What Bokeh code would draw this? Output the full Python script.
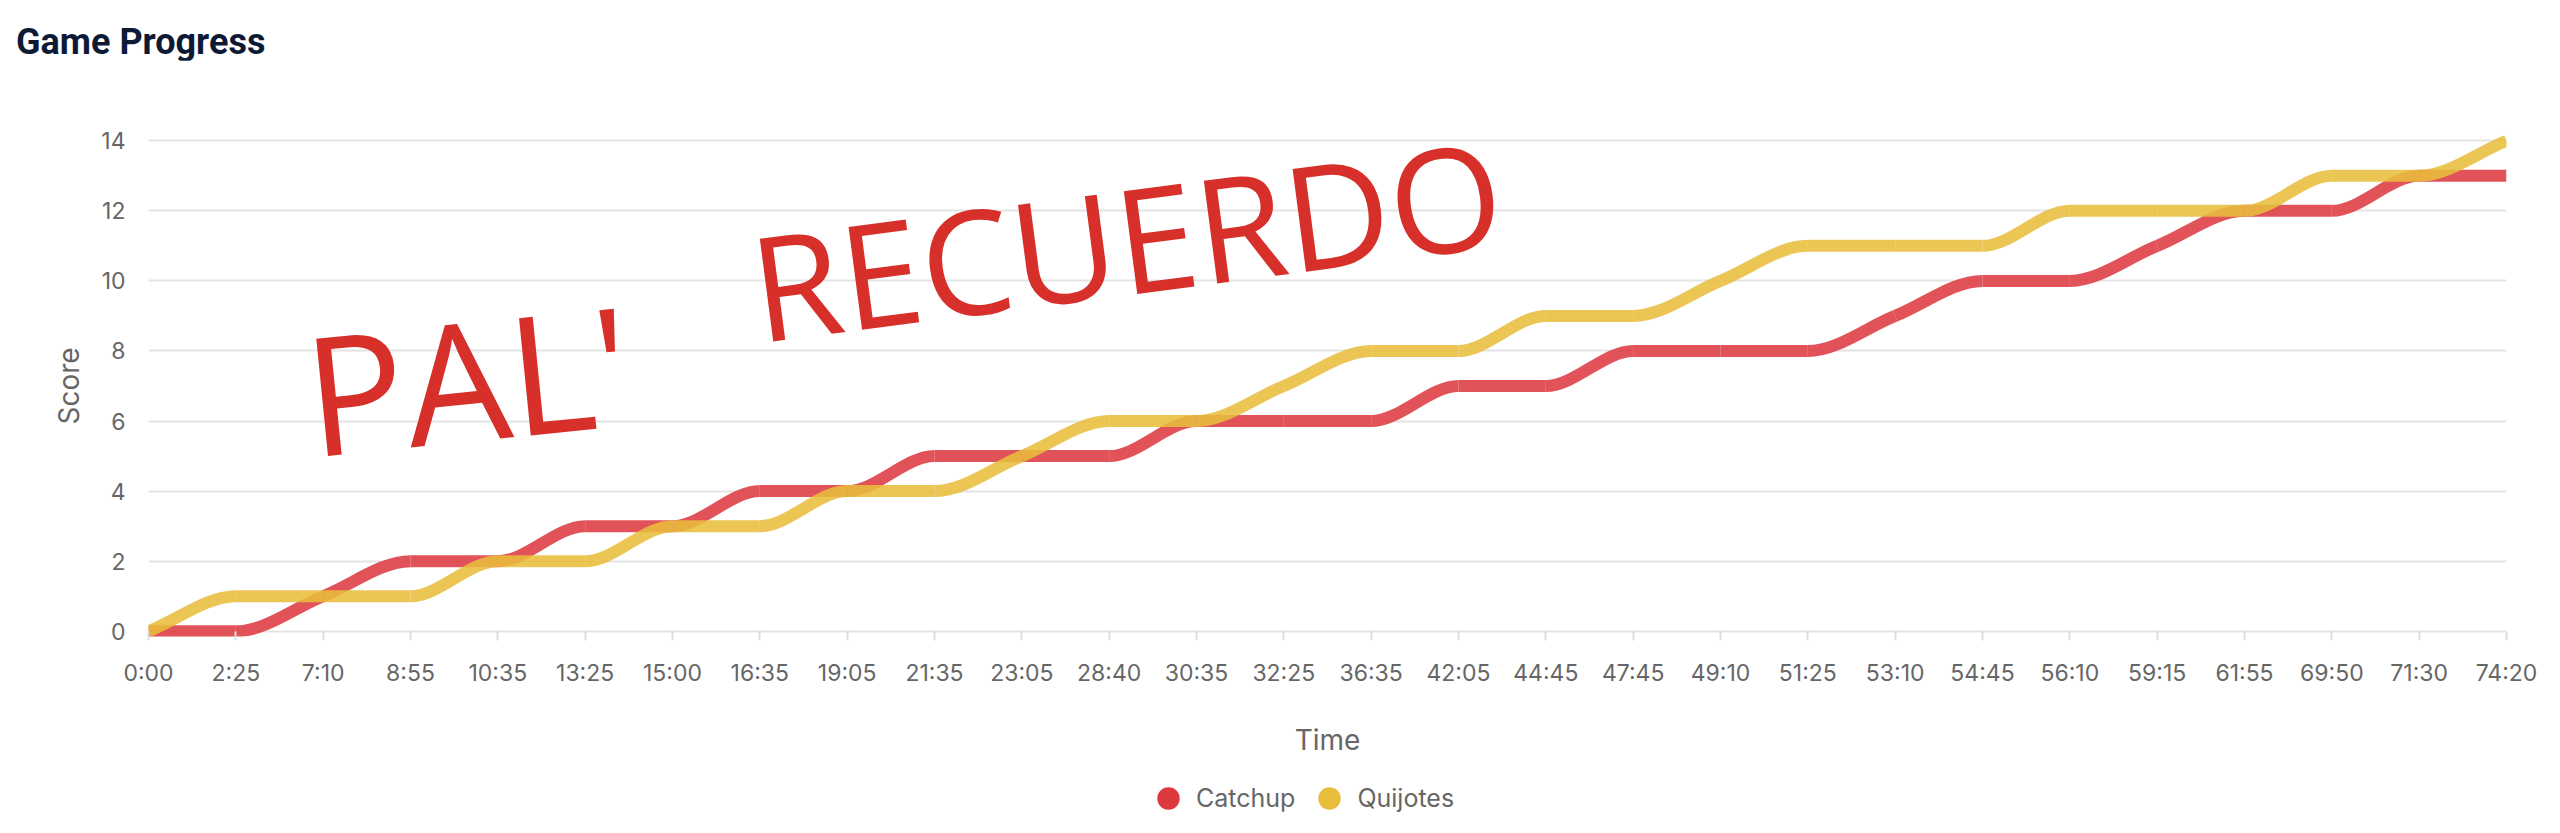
import numpy as np
from bokeh.plotting import figure
from bokeh.layouts import column
from bokeh.models import (ColumnDataSource, FixedTicker, Range1d, Legend, LegendItem, Label, Div)
from bokeh.embed import file_html
from bokeh.resources import INLINE

# ---------------- data ----------------
times = ["0:00", "2:25", "7:10", "8:55", "10:35", "13:25", "15:00", "16:35", "19:05",
         "21:35", "23:05", "28:40", "30:35", "32:25", "36:35", "42:05", "44:45", "47:45",
         "49:10", "51:25", "53:10", "54:45", "56:10", "59:15", "61:55", "69:50", "71:30",
         "74:20"]
catchup = [0, 0, 1, 2, 2, 3, 3, 4, 4, 5, 5, 5, 6, 6, 6, 7, 7, 8, 8, 8, 9, 10, 10, 11, 12,
           12, 13, 13]
quijotes = [0, 1, 1, 1, 2, 2, 3, 3, 4, 4, 5, 6, 6, 7, 8, 8, 9, 9, 10, 11, 11, 11, 12, 12,
            12, 13, 13, 14]
series_names = ["Catchup", "Quijotes"]
y_ticks = [0, 2, 4, 6, 8, 10, 12, 14]
title_text = "Game Progress"

RED = "#dc3a3f"
YELLOW = "#e8bd3c"
GREY = "#666666"


def monotone_segments(y):
    """Monotone cubic (Fritsch-Carlson) bezier segments between category points."""
    y = np.asarray(y, dtype=float)
    n = len(y)
    x = np.arange(n, dtype=float)
    d = np.diff(y)
    m = np.zeros(n)
    m[0] = d[0]
    m[-1] = d[-1]
    for i in range(1, n - 1):
        if np.sign(d[i - 1]) != np.sign(d[i]):
            m[i] = 0.0
        else:
            m[i] = (d[i - 1] + d[i]) / 2.0
    for i in range(n - 1):
        if abs(d[i]) < 1e-9:
            m[i] = m[i + 1] = 0.0
            continue
        a = m[i] / d[i]
        b = m[i + 1] / d[i]
        s = a * a + b * b
        if s > 9:
            t = 3.0 / np.sqrt(s)
            m[i] = a * t * d[i]
            m[i + 1] = b * t * d[i]
    dx = 1.0 / 3.0
    return dict(
        x0=x[:-1], y0=y[:-1], x1=x[1:], y1=y[1:],
        cx0=x[:-1] + dx, cy0=y[:-1] + m[:-1] * dx,
        cx1=x[1:] - dx, cy1=y[1:] - m[1:] * dx,
    )


title = Div(text=('<div style="margin:21px 0 0 16px;font-family:Roboto;font-size:36px;'
                  'font-weight:bold;color:#0d1a36;white-space:nowrap;line-height:normal;">'
                  '%s</div>' % title_text),
            width=2560, height=60, margin=(0, 0, 0, 0))

p = figure(width=2560, height=706, output_backend="svg", toolbar_location=None,
           x_range=Range1d(0, len(times) - 1), y_range=Range1d(-0.15, 14.15),
           min_border_left=148, min_border_right=54, min_border_bottom=130,
           min_border_top=75, margin=(0, 0, 0, 0))
p.outline_line_color = None
p.background_fill_color = "white"
p.border_fill_color = "white"

# lines
for vals, col in [(catchup, RED), (quijotes, YELLOW)]:
    src = ColumnDataSource(monotone_segments(vals))
    p.bezier(x0="x0", y0="y0", x1="x1", y1="y1", cx0="cx0", cy0="cy0", cx1="cx1", cy1="cy1",
             source=src, line_color=col, line_width=12, line_alpha=0.87)

# axes
xa = p.xaxis[0]
xa.ticker = FixedTicker(ticks=list(range(len(times))))
xa.major_label_overrides = {i: t for i, t in enumerate(times)}
xa.minor_tick_line_color = None
xa.axis_line_color = None
xa.major_tick_in = 5
xa.major_tick_out = 4
xa.major_tick_line_color = "#dddddd"
xa.major_tick_line_width = 2
xa.major_label_standoff = 18
xa.major_label_text_font = "Inter"
xa.major_label_text_font_size = "23px"
xa.major_label_text_color = GREY
xa.axis_label = "Time"
xa.axis_label_text_font = "Inter"
xa.axis_label_text_font_size = "28px"
xa.axis_label_text_font_style = "normal"
xa.axis_label_text_color = GREY
xa.axis_label_standoff = 33

ya = p.yaxis[0]
ya.ticker = FixedTicker(ticks=y_ticks)
ya.minor_tick_line_color = None
ya.major_tick_line_color = None
ya.major_tick_in = 0
ya.major_tick_out = 0
ya.axis_line_color = None
ya.major_label_standoff = 23
ya.major_label_text_font = "Inter"
ya.major_label_text_font_size = "23px"
ya.major_label_text_color = GREY
ya.axis_label = "Score"
ya.axis_label_text_font = "Inter"
ya.axis_label_text_font_size = "28px"
ya.axis_label_text_font_style = "normal"
ya.axis_label_text_color = GREY
ya.axis_label_standoff = 12

p.xgrid.grid_line_color = None
p.ygrid.grid_line_color = "#e4e4e4"
p.ygrid.grid_line_width = 2

# handwritten annotation
hand = dict(text_font="Open Sans", text_color="#d7302b",
            text_baseline="alphabetic", text_align="left")
p.add_layout(Label(x=1.80, y=6.78, text="PAL'", angle=0.1, text_font_size="165px", **hand))
p.add_layout(Label(x=6.91, y=9.82, text="RECUERDO", angle=0.13, text_font_size="145px",
                   **hand))

# legend strip (circle markers)
lg = figure(width=2560, height=67, output_backend="svg", toolbar_location=None,
            x_range=Range1d(0, 1), y_range=Range1d(0, 1),
            x_axis_location=None, y_axis_location=None, min_border=0,
            margin=(0, 0, 0, 0))
lg.grid.visible = False
lg.outline_line_color = None
lg.background_fill_color = "white"
lg.border_fill_color = "white"
items = []
for name, vals, col in zip(series_names, [catchup, quijotes], [RED, YELLOW]):
    r = lg.scatter(x=list(range(len(times))), y=vals, marker="circle", size=25,
                   fill_color=col, line_color=None, visible=False)
    items.append(LegendItem(label=name, renderers=[r]))
legend = Legend(items=items, orientation="horizontal", location=(992, 7),
                glyph_width=56, glyph_height=56, label_standoff=0, spacing=6,
                padding=0, margin=0, border_line_color=None, background_fill_alpha=0,
                inactive_fill_alpha=0,
                label_text_font="Inter", label_text_font_size="25px",
                label_text_color=GREY)
lg.add_layout(legend, "center")

layout = column(title, p, lg, spacing=0, margin=(0, 0, 0, 0))
open("out.html", "w").write(file_html(layout, INLINE))
